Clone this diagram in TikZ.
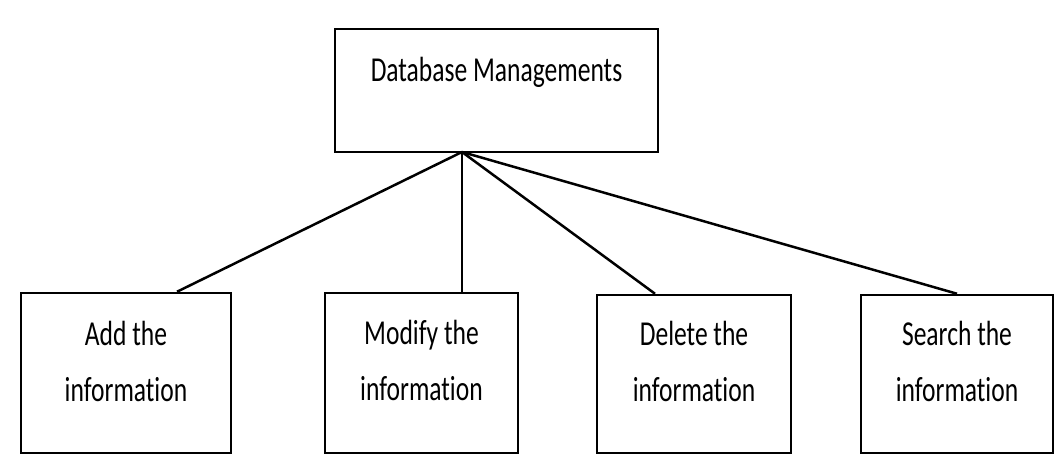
\documentclass[tikz,border=0pt]{standalone}
\usepackage{fontspec}
\setmainfont{Carlito}[FakeStretch=0.73,Ligatures={NoCommon}]
\begin{document}
\begin{tikzpicture}[x=1pt,y=-1pt,
  box/.style={draw=black,line width=2.5pt,rectangle,inner sep=0pt},
  lbl/.style={anchor=base,align=center,inner sep=0pt,font=\fontsize{35}{56}\selectfont},
  conn/.style={line width=2.5pt,black}]
\useasboundingbox[fill=white] (0,0) rectangle (1058,455);
\node[box,minimum width=323pt,minimum height=123pt] (top) at (496.5,90.5) {};
\node[box,minimum width=210pt,minimum height=160pt] (b1) at (126,373) {};
\node[box,minimum width=193pt,minimum height=160pt] (b2) at (421.5,373) {};
\node[box,minimum width=194pt,minimum height=158pt] (b3) at (694,374) {};
\node[box,minimum width=192pt,minimum height=158pt] (b4) at (957,374) {};
\node[lbl] (t0) at ([yshift=-54pt]top.north) {Database Managements};
\node[lbl] (t1) at ([yshift=-110pt]b1.north) {Add the\\information};
\node[lbl] (t2) at ([yshift=-109pt]b2.north) {Modify the\\information};
\node[lbl] (t3) at ([yshift=-108pt]b3.north) {Delete the\\information};
\node[lbl] (t4) at ([yshift=-108pt]b4.north) {Search the\\information};
\coordinate (j) at (462,152);
\draw[conn] (j) -- (b1.north -| 177,0);
\draw[conn] (j) -- (b2.north -| 462,0);
\draw[conn] (j) -- (b3.north -| 655,0);
\draw[conn] (j) -- (b4.north -| 957,0);
\end{tikzpicture}
\end{document}
